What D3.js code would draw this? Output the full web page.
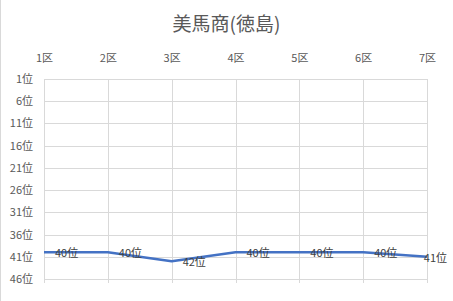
<!DOCTYPE html>
<meta charset="utf-8">
<style>
body {margin: 0; background: #fff;}
text {font-family: "Noto Sans CJK JP", "Noto Sans", sans-serif; fill: #595959;}
.tick text {font-size: 11px;}
.label {font-size: 11px; fill: #404040;}
</style>
<body>
<script src="https://d3js.org/d3.v7.min.js"></script>
<div id="chart"></div>
</body>
<script>
// data
var title = "美馬商(徳島)";
var districts = ["1区", "2区", "3区", "4区", "5区", "6区", "7区"];
var ranks = [40, 40, 42, 40, 40, 40, 41];
var rankTicks = [1, 6, 11, 16, 21, 26, 31, 36, 41, 46];

var width = 453,
    height = 301,
    margin = {top: 79, right: 26, bottom: 22, left: 44};

var svg = d3.select("#chart").append("svg")
    .attr("width", width)
    .attr("height", height);

// chart border (only left edge visible)
svg.append("line")
    .attr("x1", 0.5).attr("x2", 0.5)
    .attr("y1", 0).attr("y2", height)
    .attr("stroke", "#d9d9d9");

var x = d3.scalePoint()
    .domain(districts)
    .range([margin.left, width - margin.right]);

var y = d3.scaleLinear()
    .domain([1, 46])
    .range([margin.top, height - margin.bottom]);

// gridlines
svg.append("g").selectAll("line")
    .data(rankTicks)
    .enter().append("line")
    .attr("x1", margin.left).attr("x2", width - margin.right)
    .attr("y1", function(d) { return Math.round(y(d)) + 0.5; })
    .attr("y2", function(d) { return Math.round(y(d)) + 0.5; })
    .attr("stroke", "#d9d9d9");

svg.append("g").selectAll("line")
    .data(districts)
    .enter().append("line")
    .attr("x1", function(d) { return Math.round(x(d)) + 0.5; })
    .attr("x2", function(d) { return Math.round(x(d)) + 0.5; })
    .attr("y1", margin.top)
    .attr("y2", height - margin.bottom + 4)
    .attr("stroke", "#d9d9d9");

// axes (labels only)
var xAxis = svg.append("g")
    .attr("transform", "translate(0," + (margin.top - 21) + ")")
    .call(d3.axisTop(x).tickSize(0).tickPadding(0));
xAxis.select(".domain").remove();
xAxis.selectAll("text").attr("dy", "0.35em");

var yAxis = svg.append("g")
    .attr("transform", "translate(" + (margin.left - 11) + ",0)")
    .call(d3.axisLeft(y).tickValues(rankTicks).tickSize(0).tickPadding(0)
        .tickFormat(function(d) { return d + "位"; }));
yAxis.select(".domain").remove();

// title
svg.append("text")
    .attr("x", width / 2)
    .attr("y", 24)
    .attr("text-anchor", "middle")
    .attr("dy", "0.35em")
    .style("font-size", "19px")
    .text(title);

// line
var line = d3.line()
    .x(function(d, i) { return x(districts[i]); })
    .y(function(d) { return y(d); });

svg.append("path")
    .datum(ranks)
    .attr("fill", "none")
    .attr("stroke", "#4472c4")
    .attr("stroke-width", 2.5)
    .attr("stroke-linejoin", "round")
    .attr("d", line);

// data labels
svg.append("g").selectAll("text")
    .data(ranks)
    .enter().append("text")
    .attr("class", "label")
    .attr("y", function(d) { return y(d) + 1; })
    .attr("dy", "0.35em")
    .text(function(d) { return d + "位"; })
    .attr("x", function(d, i) {
        var w = this.getComputedTextLength();
        return Math.min(x(districts[i]) + 11, width - 6 - w);
    });
</script>
